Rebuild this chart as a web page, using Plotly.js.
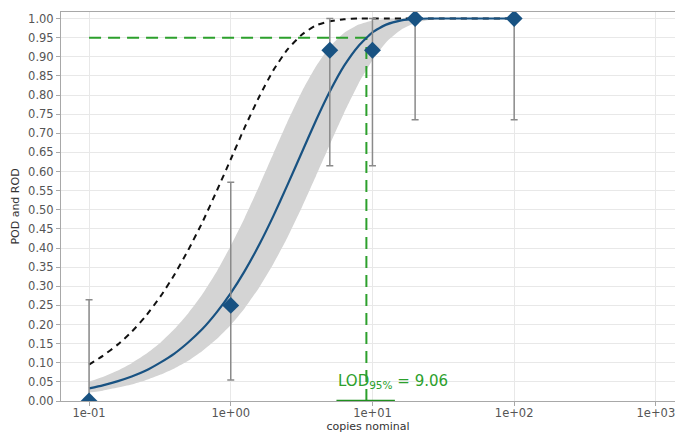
<!DOCTYPE html>
<html>
<head>
<meta charset="utf-8">
<script src="https://cdn.plot.ly/plotly-3.0.1.min.js"></script>
<style>html,body{margin:0;padding:0;background:#fff;}#chart{width:675px;height:433px;}</style>
</head>
<body>
<div id="chart"></div>
<script>
// Observed detection rates (diamonds) with confidence limits
const ptX = [0.1, 1, 5, 10, 20, 100];
const ptY = [0.0, 0.25, 0.917, 0.917, 1.0, 1.0];
const ptHigh = [0.265, 0.572, 1.0, 1.0, 1.0, 1.0];
const ptLow = [0.0, 0.055, 0.615, 0.615, 0.735, 0.735];

// Curves
const curveX   = [0.1, 0.125, 0.16, 0.2, 0.25, 0.32, 0.4, 0.5, 0.63, 0.8, 1, 1.25, 1.6, 2, 2.5, 3.2, 4, 5, 6.3, 8, 10, 12.5, 16, 20, 25, 32, 40, 50, 63, 80, 100];
const podFit   = [0.033, 0.041, 0.052, 0.064, 0.079, 0.101, 0.124, 0.153, 0.188, 0.233, 0.282, 0.339, 0.411, 0.484, 0.563, 0.653, 0.734, 0.809, 0.876, 0.929, 0.964, 0.984, 0.995, 0.999, 1.0, 1.0, 1.0, 1.0, 1.0, 1.0, 1.0];
const bandHigh = [0.051, 0.063, 0.080, 0.099, 0.122, 0.153, 0.188, 0.229, 0.279, 0.340, 0.406, 0.478, 0.565, 0.647, 0.728, 0.811, 0.875, 0.926, 0.962, 0.984, 0.995, 0.999, 1.0, 1.0, 1.0, 1.0, 1.0, 1.0, 1.0, 1.0, 1.0];
const bandLow  = [0.022, 0.027, 0.035, 0.043, 0.054, 0.069, 0.085, 0.105, 0.131, 0.163, 0.199, 0.242, 0.299, 0.359, 0.426, 0.509, 0.589, 0.670, 0.753, 0.831, 0.891, 0.938, 0.971, 0.988, 0.996, 0.999, 1.0, 1.0, 1.0, 1.0, 1.0];
const podIdeal = [0.095, 0.118, 0.148, 0.181, 0.221, 0.274, 0.330, 0.394, 0.467, 0.551, 0.632, 0.714, 0.798, 0.865, 0.918, 0.959, 0.982, 0.993, 0.998, 1.0, 1.0, 1.0, 1.0, 1.0, 1.0, 1.0, 1.0, 1.0, 1.0, 1.0, 1.0];

// LOD
const podLevel = 0.95;
const lod95 = 9.06;
const lodCI = [5.57, 14.4];
const lodLabel = 'LOD<sub>95%</sub> = 9.06';

// Axis ticks
const xTickVals = [0.1, 1, 10, 100, 1000];
const xTickText = ['1e-01', '1e+00', '1e+01', '1e+02', '1e+03'];
const yTickVals = [];
for (let i = 0; i <= 20; i++) yTickVals.push(+(i * 0.05).toFixed(2));

const blue = '#185282';
const green = '#2ca02c';

const traces = [
  {x: curveX, y: bandLow, mode: 'lines', line: {width: 0, color: 'rgba(0,0,0,0)', shape: 'spline', smoothing: 0.5}, hoverinfo: 'skip', showlegend: false},
  {x: curveX, y: bandHigh, mode: 'lines', line: {width: 0, color: 'rgba(0,0,0,0)', shape: 'spline', smoothing: 0.5}, fill: 'tonexty', fillcolor: '#d4d4d4', hoverinfo: 'skip', showlegend: false},
  {x: curveX, y: podIdeal, mode: 'lines', line: {color: '#111', width: 2, dash: '6px,5px', shape: 'spline', smoothing: 0.5}, showlegend: false},
  {x: [ptX[0], lod95], y: [podLevel, podLevel], mode: 'lines', line: {color: green, width: 2, dash: '12px,7px'}, showlegend: false},
  {x: [lod95, lod95], y: [0, podLevel], mode: 'lines', line: {color: green, width: 2, dash: '12px,7px'}, showlegend: false},
  {x: lodCI, y: [0, 0], mode: 'lines', line: {color: '#1f8f1f', width: 2.5}, cliponaxis: false, showlegend: false},
  {x: curveX, y: podFit, mode: 'lines', line: {color: blue, width: 2.2, shape: 'spline', smoothing: 0.5}, showlegend: false},
  {x: ptX, y: ptY, mode: 'markers', marker: {symbol: 'diamond', size: 13, color: blue},
   error_y: {type: 'data', symmetric: false,
             array: ptHigh.map((h, i) => h - ptY[i]),
             arrayminus: ptLow.map((l, i) => ptY[i] - l),
             color: '#8a8a8a', thickness: 1.5, width: 3.5},
   showlegend: false}
];

const layout = {
  width: 675, height: 433,
  margin: {l: 61, r: 0, t: 12, b: 32},
  paper_bgcolor: '#fff', plot_bgcolor: '#fff',
  font: {family: 'DejaVu Sans, sans-serif', color: '#555', size: 11.5},
  showlegend: false,
  xaxis: {
    type: 'log', range: [-1.198, 3.135],
    tickvals: xTickVals, ticktext: xTickText,
    ticklabeloverflow: 'allow', ticklabelstandoff: -3,
    showgrid: true, gridcolor: '#e8e8e8', gridwidth: 1,
    showline: true, linecolor: '#a8a8a8', linewidth: 1, mirror: true,
    ticks: 'outside', ticklen: 4, tickcolor: '#a8a8a8',
    zeroline: false,
    title: {text: 'copies nominal', font: {size: 11, color: '#333'}, standoff: 4}
  },
  yaxis: {
    range: [0, 1.017],
    tickvals: yTickVals, tickformat: '.2f',
    showgrid: true, gridcolor: '#e8e8e8', gridwidth: 1,
    showline: true, linecolor: '#a8a8a8', linewidth: 1,
    ticks: 'outside', ticklen: 4, tickcolor: '#a8a8a8',
    zeroline: false,
    title: {text: 'POD and ROD', font: {size: 11, color: '#333'}, standoff: 6}
  },
  annotations: [{
    x: Math.log10(lodCI[0]), y: 0.05, xref: 'x', yref: 'y',
    xanchor: 'left', yanchor: 'middle', showarrow: false,
    text: lodLabel, font: {size: 15, color: green}
  }]
};

Plotly.newPlot('chart', traces, layout, {staticPlot: true, displayModeBar: false});
</script>
</body>
</html>
